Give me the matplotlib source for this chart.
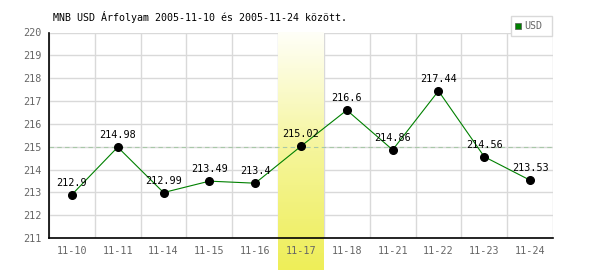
import numpy as np
import matplotlib
matplotlib.use("Agg")
import matplotlib.pyplot as plt
import matplotlib.transforms as mtransforms
from matplotlib.colors import LinearSegmentedColormap
from matplotlib.patches import Rectangle

dates = ["11-10", "11-11", "11-14", "11-15", "11-16", "11-17",
         "11-18", "11-21", "11-22", "11-23", "11-24"]
rates = [212.9, 214.98, 212.99, 213.49, 213.4, 215.02,
         216.6, 214.86, 217.44, 214.56, 213.53]
labels = ["212.9", "214.98", "212.99", "213.49", "213.4", "215.02",
          "216.6", "214.86", "217.44", "214.56", "213.53"]
highlight = "11-17"
ref_level = 215
title = "MNB USD Árfolyam 2005-11-10 és 2005-11-24 között."

plt.rcParams['font.family'] = ['DejaVu Sans Mono']

fig = plt.figure(figsize=(6, 2.7), dpi=100)
ax = fig.add_axes([49 / 600, 1 - 238 / 270, 504 / 600, 205.5 / 270])

x = np.arange(len(dates))

## Grid ##
for k in range(len(dates) + 1):
    ax.axvline(k - 0.5, color="#d9d9d9", lw=1, zorder=0)
for v in range(211, 221):
    ax.axhline(v, color="#d9d9d9", lw=1, zorder=0)

## Highlighted day (gradient band, runs below the axis) ##
hi = dates.index(highlight)
cmap = LinearSegmentedColormap.from_list("band", ["#fffff8", "#f5f59a", "#eeee58"])
grad = np.linspace(0, 1, 256).reshape(-1, 1)
trans = mtransforms.blended_transform_factory(ax.transData, ax.transAxes)
ax.imshow(grad, cmap=cmap, aspect="auto", origin="upper",
          extent=(hi - 0.5, hi + 0.5, -0.155, 1.0), transform=trans,
          clip_on=False, zorder=1)

ax.axhline(ref_level, color="#a8c8a8", lw=0.8, ls=(0, (4, 3)), zorder=2)

## Data ##
ax.plot(x, rates, color="#008000", lw=0.8, zorder=3)
ax.plot(x, rates, "o", color="black", ms=5.5, zorder=4)
for xi, yi, lab in zip(x, rates, labels):
    ax.text(xi, yi + 0.3, lab, ha="center", va="bottom", fontsize=7.3,
            color="black", zorder=5)

ax.set_xlim(-0.5, len(dates) - 0.5)
ax.set_ylim(211, 220)
ax.set_xticks(x)
ax.set_xticklabels(dates)
ax.set_yticks(range(211, 221))
ax.tick_params(length=0, labelsize=7.3, labelcolor="#666666", pad=6)
ax.tick_params(axis="y", pad=5)

for s in ["top", "right"]:
    ax.spines[s].set_visible(False)
ax.spines["left"].set_color("black")
ax.spines["bottom"].set_color("black")
ax.spines["left"].set_linewidth(1.2)
ax.spines["bottom"].set_linewidth(1.2)
ax.spines["left"].set_zorder(6)
ax.spines["bottom"].set_zorder(6)
ax.set_facecolor("white")

## Title and legend ##
fig.text(53 / 600, 1 - 17 / 270, title, fontsize=7.2, color="black",
         ha="left", va="center")
fig.patches.append(Rectangle((511 / 600, 1 - 36 / 270), 41 / 600, 20 / 270,
                             transform=fig.transFigure, facecolor="white",
                             edgecolor="#d9d9d9", lw=1))
fig.patches.append(Rectangle((515 / 600, 1 - 29 / 270), 6 / 600, 6 / 270,
                             transform=fig.transFigure, facecolor="#008000",
                             edgecolor="#555555", lw=0.5))
fig.text(524 / 600, 1 - 26 / 270, "USD", fontsize=7.2, color="#666666",
         ha="left", va="center")

fig.savefig("out.png", dpi=100)
